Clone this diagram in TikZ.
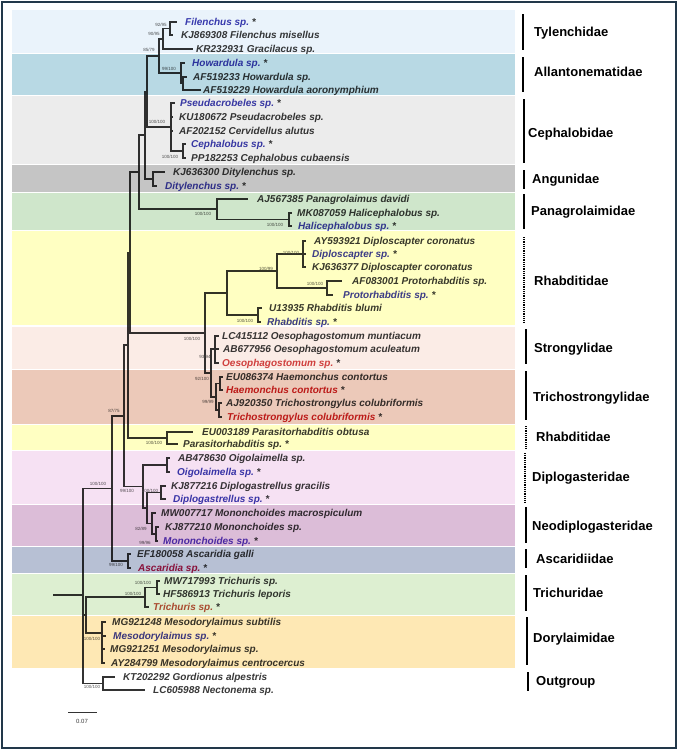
\documentclass[tikz,border=0pt]{standalone}
\usepackage{fontspec}
\setmainfont{Liberation Sans}
\definecolor{treegray}{HTML}{333333}
\definecolor{tipdark}{HTML}{383838}
\definecolor{isoblue}{HTML}{3C3CB0}
\definecolor{isored}{HTML}{CC2222}
\definecolor{oesored}{HTML}{D44545}
\definecolor{ascred}{HTML}{C01848}
\definecolor{trired}{HTML}{C4503A}
\definecolor{monopurple}{HTML}{5838C0}
\definecolor{bsgray}{HTML}{555555}
\definecolor{framecol}{HTML}{22384A}
\definecolor{cTyl}{HTML}{EAF3FB}
\definecolor{cAll}{HTML}{B8D9E4}
\definecolor{cCep}{HTML}{ECECEC}
\definecolor{cAng}{HTML}{C5C5C5}
\definecolor{cPan}{HTML}{CFE6CB}
\definecolor{cRha}{HTML}{FFFFC2}
\definecolor{cStr}{HTML}{FBECE6}
\definecolor{cTri}{HTML}{ECC9B9}
\definecolor{cDip}{HTML}{F6E1F3}
\definecolor{cNeo}{HTML}{DCBDD8}
\definecolor{cAsc}{HTML}{B7C0D4}
\definecolor{cTrc}{HTML}{DDEFD1}
\definecolor{cDor}{HTML}{FEE8B4}
\newcommand\tipnode[5]{\coordinate (#1) at (#2,#4); \node[lab] (#1l) at (#3,#4) {#5};}
\newcommand\iso[2]{\textcolor{#1}{#2}~*}
\begin{document}
\begin{tikzpicture}[x=1pt,y=-1pt,
  br/.style={draw=treegray, line width=1.1pt},
  lab/.style={anchor=west, inner sep=0pt, text height=7pt, text depth=0pt, font=\fontsize{10}{12}\selectfont\bfseries\itshape, text=tipdark},
  bs/.style={font=\fontsize{4.5}{5}\selectfont, text=bsgray, inner sep=0pt},
  fam/.style={anchor=west, inner sep=0pt, text height=9pt, text depth=0pt, font=\fontsize{13}{15}\selectfont\bfseries, text=black},
  fbar/.style={line width=1.6pt, draw=black},
  fdot/.style={line width=1.6pt, draw=black, dash pattern=on 1pt off 0.8pt}]
\useasboundingbox (0,0) rectangle (678,750);
\fill[white] (0,0) rectangle (678,750);
\draw[line width=2.2pt, framecol] (2,2) rectangle (676,748);

% ---- tips
\tipnode{t1}{177}{185}{22}{\iso{isoblue}{Filenchus sp.}}
\tipnode{t2}{173}{181}{35}{KJ869308 Filenchus misellus}
\tipnode{t3}{193}{196}{49}{KR232931 Gracilacus sp.}
\tipnode{t4}{185}{192}{63}{\iso{isoblue}{Howardula sp.}}
\tipnode{t5}{187}{193}{77}{AF519233 Howardula sp.}
\tipnode{t6}{201}{203}{90}{AF519229 Howardula aoronymphium}
\tipnode{t7}{175}{180}{103}{\iso{isoblue}{Pseudacrobeles sp.}}
\tipnode{t8}{173}{179}{117}{KU180672 Pseudacrobeles sp.}
\tipnode{t9}{173}{179}{131}{AF202152 Cervidellus alutus}
\tipnode{t10}{186}{191}{144}{\iso{isoblue}{Cephalobus sp.}}
\tipnode{t11}{186}{191}{158}{PP182253 Cephalobus cubaensis}
\tipnode{t12}{165}{173}{172}{KJ636300 Ditylenchus sp.}
\tipnode{t13}{157}{165}{186}{\iso{isoblue}{Ditylenchus sp.}}
\tipnode{t14}{248}{257}{199}{AJ567385 Panagrolaimus davidi}
\tipnode{t15}{292}{297}{213}{MK087059 Halicephalobus sp.}
\tipnode{t16}{292}{298}{226}{\iso{isoblue}{Halicephalobus sp.}}
\tipnode{t17}{306}{314}{241}{AY593921 Diploscapter coronatus}
\tipnode{t18}{306}{312}{254}{\iso{isoblue}{Diploscapter sp.}}
\tipnode{t19}{306}{312}{267}{KJ636377 Diploscapter coronatus}
\tipnode{t20}{342}{352}{281}{AF083001 Protorhabditis sp.}
\tipnode{t21}{333}{343}{295}{\iso{isoblue}{Protorhabditis sp.}}
\tipnode{t22}{262}{269}{308}{U13935 Rhabditis blumi}
\tipnode{t23}{261}{267}{322}{\iso{isoblue}{Rhabditis sp.}}
\tipnode{t24}{219}{222}{336}{LC415112 Oesophagostomum muntiacum}
\tipnode{t25}{219}{223}{349}{AB677956 Oesophagostomum aculeatum}
\tipnode{t26}{219}{222}{363}{\iso{oesored}{Oesophagostomum sp.}}
\tipnode{t27}{223}{226}{377}{EU086374 Haemonchus contortus}
\tipnode{t28}{223}{226}{390}{\iso{isored}{Haemonchus contortus}}
\tipnode{t29}{222}{226}{403}{AJ920350 Trichostrongylus colubriformis}
\tipnode{t30}{222}{227}{417}{\iso{isored}{Trichostrongylus colubriformis}}
\tipnode{t31}{193}{202}{432}{EU003189 Parasitorhabditis obtusa}
\tipnode{t32}{178}{183}{444}{Parasitorhabditis sp.~*}
\tipnode{t33}{170}{178}{458}{AB478630 Oigolaimella sp.}
\tipnode{t34}{170}{177}{472}{\iso{isoblue}{Oigolaimella sp.}}
\tipnode{t35}{166}{171}{486}{KJ877216 Diplogastrellus gracilis}
\tipnode{t36}{166}{173}{499}{\iso{isoblue}{Diplogastrellus sp.}}
\tipnode{t37}{156}{161}{513}{MW007717 Mononchoides macrospiculum}
\tipnode{t38}{159}{165}{527}{KJ877210 Mononchoides sp.}
\tipnode{t39}{158}{163}{541}{\iso{monopurple}{Mononchoides sp.}}
\tipnode{t40}{131}{137}{554}{EF180058 Ascaridia galli}
\tipnode{t41}{131}{138}{568}{\iso{ascred}{Ascaridia sp.}}
\tipnode{t42}{160}{164}{581}{MW717993 Trichuris sp.}
\tipnode{t43}{160}{163}{594}{HF586913 Trichuris leporis}
\tipnode{t44}{149}{153}{607}{\iso{trired}{Trichuris sp.}}
\tipnode{t45}{106}{112}{622}{MG921248 Mesodorylaimus subtilis}
\tipnode{t46}{106}{113}{636}{\iso{isoblue}{Mesodorylaimus sp.}}
\tipnode{t47}{105}{110}{649}{MG921251 Mesodorylaimus sp.}
\tipnode{t48}{105}{111}{663}{AY284799 Mesodorylaimus centrocercus}
\tipnode{t49}{115}{123}{677}{KT202292 Gordionus alpestris}
\tipnode{t50}{145}{153}{690}{LC605988 Nectonema sp.}

% ---- internal nodes
\coordinate (Fp) at (170,28.5);
\coordinate (Ty) at (163,39);
\coordinate (Hi) at (183,83.5);
\coordinate (Ho) at (181,73);
\coordinate (A) at (159,56);
\coordinate (Cb) at (183,151);
\coordinate (Ce) at (171,127);
\coordinate (B) at (147,91.5);
\coordinate (An) at (153,179);
\coordinate (C) at (145,135);
\coordinate (Hal) at (289,219.5);
\coordinate (Pa) at (217,209);
\coordinate (D) at (139,172);
\coordinate (Dp) at (303,254);
\coordinate (Pr) at (327,288);
\coordinate (E) at (277,271);
\coordinate (Rh) at (258,315);
\coordinate (F) at (227,293);
\coordinate (S) at (215,349);
\coordinate (T1) at (220,383.5);
\coordinate (T2) at (219,410);
\coordinate (T) at (216,397);
\coordinate (H) at (211,373);
\coordinate (G) at (205,333);
\coordinate (I) at (130,252.5);
\coordinate (P) at (167,438);
\coordinate (J) at (128,345);
\coordinate (Og) at (167,465);
\coordinate (Dg) at (161,492.5);
\coordinate (Mi) at (156,534);
\coordinate (Mn) at (152,523.5);
\coordinate (R) at (147,508);
\coordinate (M) at (143,486.5);
\coordinate (L) at (124,416);
\coordinate (As) at (128,561);
\coordinate (N) at (112,488.5);
\coordinate (Ti) at (157,587.5);
\coordinate (Tr) at (145,597);
\coordinate (Do) at (102,633);
\coordinate (Q) at (86,615);
\coordinate (OG) at (103,683.5);
\coordinate (O) at (83,595);
\coordinate (root) at (53,595);

% ---- branches
\draw[br] (Fp) |- (t1) (Fp) |- (t2);
\draw[br] (Ty) |- (Fp) (Ty) |- (t3);
\draw[br] (Hi) |- (t5) (Hi) |- (t6);
\draw[br] (Ho) |- (t4) (Ho) |- (Hi);
\draw[br] (A) |- (Ty) (A) |- (Ho);
\draw[br] (Cb) |- (t10) (Cb) |- (t11);
\draw[br] (Ce) |- (t7) (Ce) |- (t8) (Ce) |- (t9) (Ce) |- (Cb);
\draw[br] (B) |- (A) (B) |- (Ce);
\draw[br] (An) |- (t12) (An) |- (t13);
\draw[br] (C) |- (B) (C) |- (An);
\draw[br] (Hal) |- (t15) (Hal) |- (t16);
\draw[br] (Pa) |- (t14) (Pa) |- (Hal);
\draw[br] (D) |- (C) (D) |- (Pa);
\draw[br] (Dp) |- (t17) (Dp) |- (t18) (Dp) |- (t19);
\draw[br] (Pr) |- (t20) (Pr) |- (t21);
\draw[br] (E) |- (Dp) (E) |- (Pr);
\draw[br] (Rh) |- (t22) (Rh) |- (t23);
\draw[br] (F) |- (E) (F) |- (Rh);
\draw[br] (S) |- (t24) (S) |- (t25) (S) |- (t26);
\draw[br] (T1) |- (t27) (T1) |- (t28);
\draw[br] (T2) |- (t29) (T2) |- (t30);
\draw[br] (T) |- (T1) (T) |- (T2);
\draw[br] (H) |- (S) (H) |- (T);
\draw[br] (G) |- (F) (G) |- (H);
\draw[br] (I) |- (D) (I) |- (G);
\draw[br] (P) |- (t31) (P) |- (t32);
\draw[br] (J) |- (I) (J) |- (P);
\draw[br] (Og) |- (t33) (Og) |- (t34);
\draw[br] (Dg) |- (t35) (Dg) |- (t36);
\draw[br] (Mi) |- (t38) (Mi) |- (t39);
\draw[br] (Mn) |- (t37) (Mn) |- (Mi);
\draw[br] (R) |- (Dg) (R) |- (Mn);
\draw[br] (M) |- (Og) (M) |- (R);
\draw[br] (L) |- (J) (L) |- (M);
\draw[br] (As) |- (t40) (As) |- (t41);
\draw[br] (N) |- (L) (N) |- (As);
\draw[br] (Ti) |- (t42) (Ti) |- (t43);
\draw[br] (Tr) |- (Ti) (Tr) |- (t44);
\draw[br] (Do) |- (t45) (Do) |- (t46) (Do) |- (t47) (Do) |- (t48);
\draw[br] (Q) |- (Tr) (Q) |- (Do);
\draw[br] (OG) |- (t49) (OG) |- (t50);
\draw[br] (O) |- (N) (O) |- (Q) (O) |- (OG);
\draw[br] (root) -- (O);

% ---- support values
\node[bs] (b1) at (161,25) {92/95};
\node[bs] (b2) at (154,34) {90/95};
\node[bs] (b3) at (149,50) {85/79};
\node[bs] (b4) at (169,69) {99/100};
\node[bs] (b5) at (157,122) {100/100};
\node[bs] (b6) at (170,157) {100/100};
\node[bs] (b7) at (203,214) {100/100};
\node[bs] (b8) at (275,225) {100/100};
\node[bs] (b9) at (291,253) {100/100};
\node[bs] (b10) at (266,269) {100/99};
\node[bs] (b11) at (315,284) {100/100};
\node[bs] (b12) at (245,321) {100/100};
\node[bs] (b13) at (192,339) {100/100};
\node[bs] (b14) at (205,357) {93/94};
\node[bs] (b15) at (202,379) {92/100};
\node[bs] (b16) at (208,402) {99/99};
\node[bs] (b17) at (154,443) {100/100};
\node[bs] (b18) at (114,411) {87/75};
\node[bs] (b19) at (127,491) {99/100};
\node[bs] (b20) at (150,491) {100/100};
\node[bs] (b21) at (98,484) {100/100};
\node[bs] (b22) at (141,529) {82/89};
\node[bs] (b23) at (145,543) {99/96};
\node[bs] (b24) at (116,565) {99/100};
\node[bs] (b25) at (143,583) {100/100};
\node[bs] (b26) at (133,594) {100/100};
\node[bs] (b27) at (92,639) {100/100};
\node[bs] (b28) at (92,687) {100/100};

% ---- scale bar
\coordinate (sb1) at (68,712);
\coordinate (sb2) at (97,712);
\draw[line width=0.8pt, treegray] (sb1) -- (sb2);
\node[font=\fontsize{6}{7}\selectfont, text=tipdark, inner sep=0pt] (sbl) at (82,721) {0.07};

% ---- family bands (multiplied over the tree)
\begin{scope}[blend mode=multiply]
\fill[cTyl] (12,10) rectangle (515,52.5);
\fill[cAll] (12,53.5) rectangle (515,94.5);
\fill[cCep] (12,95.5) rectangle (515,163.5);
\fill[cAng] (12,164.5) rectangle (515,191.5);
\fill[cPan] (12,193) rectangle (515,230);
\fill[cRha] (12,231) rectangle (515,325);
\fill[cStr] (12,326.5) rectangle (515,368.5);
\fill[cTri] (12,369.5) rectangle (515,423.5);
\fill[cRha] (12,424.5) rectangle (515,449.5);
\fill[cDip] (12,450.5) rectangle (515,503.5);
\fill[cNeo] (12,504.5) rectangle (515,545.5);
\fill[cAsc] (12,546.5) rectangle (515,572.5);
\fill[cTrc] (12,573.5) rectangle (515,615);
\fill[cDor] (12,616) rectangle (515,668);
\end{scope}

% ---- family labels
\draw[fbar] (523,14) -- (523,50);   \node[fam] (f1) at (534,32) {Tylenchidae};
\draw[fbar] (523,57) -- (523,92);   \node[fam] (f2) at (534,72) {Allantonematidae};
\draw[fbar] (524,99) -- (524,163);  \node[fam] (f3) at (528,133) {Cephalobidae};
\draw[fbar] (524,170) -- (524,189); \node[fam] (f4) at (532,179) {Angunidae};
\draw[fbar] (524,194) -- (524,229); \node[fam] (f5) at (531,211) {Panagrolaimidae};
\draw[fdot] (524,237) -- (524,323); \node[fam] (f6) at (534,281) {Rhabditidae};
\draw[fbar] (526,329) -- (526,364); \node[fam] (f7) at (534,348) {Strongylidae};
\draw[fbar] (526,371) -- (526,420); \node[fam] (f8) at (533,397) {Trichostrongylidae};
\draw[fdot] (526,426) -- (526,448); \node[fam] (f9) at (536,437) {Rhabditidae};
\draw[fdot] (525,453) -- (525,502); \node[fam] (f10) at (532,477) {Diplogasteridae};
\draw[fbar] (526,507) -- (526,543); \node[fam] (f11) at (532,526) {Neodiplogasteridae};
\draw[fbar] (526,549) -- (526,568); \node[fam] (f12) at (536,559) {Ascaridiidae};
\draw[fbar] (526,575) -- (526,611); \node[fam] (f13) at (533,593) {Trichuridae};
\draw[fbar] (527,617) -- (527,665); \node[fam] (f14) at (533,638) {Dorylaimidae};
\draw[fbar] (528,672) -- (528,691); \node[fam] (f15) at (536,681) {Outgroup};
\end{tikzpicture}
\end{document}
